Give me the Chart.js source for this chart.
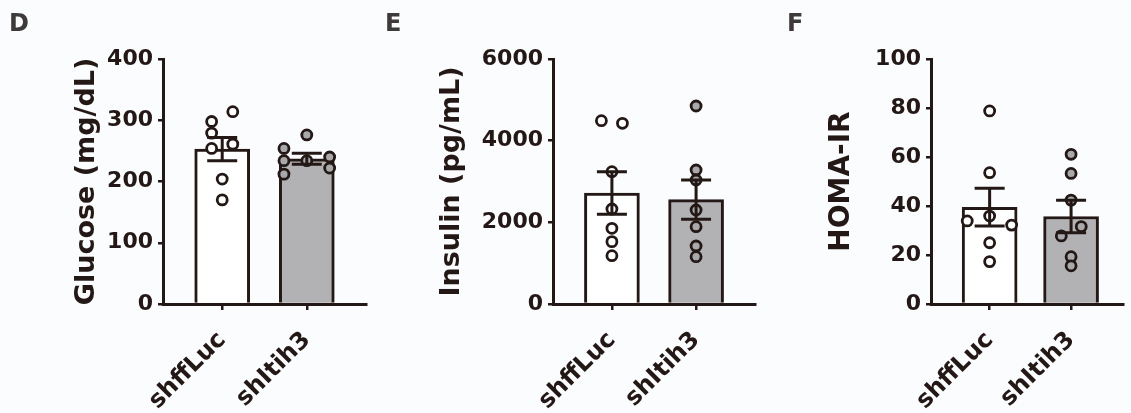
<!DOCTYPE html>
<html>
<head>
<meta charset="utf-8">
<script src="https://cdn.jsdelivr.net/npm/chart.js@4.4.0/dist/chart.umd.min.js"></script>
<style>
  body { margin: 0; background: #fbfcfe; }
  #wrap { position: relative; width: 1131px; height: 413px; }
  canvas { position: absolute; left: 0; top: 0; }
  .tag { position: absolute; top: 11px; font: bold 24px "DejaVu Sans"; line-height: 1; color: #3e3a39; }
</style>
</head>
<body>
<div id="wrap">
  <canvas id="chartD" width="1131" height="413"></canvas>
  <canvas id="chartE" width="1131" height="413"></canvas>
  <canvas id="chartF" width="1131" height="413"></canvas>
  <div class="tag" style="left:9px">D</div>
  <div class="tag" style="left:385px">E</div>
  <div class="tag" style="left:787px">F</div>
</div>
<script>
const groups = ['shffLuc', 'shItih3'];

// D - glucose
const glucoseMean = [253, 237];
const glucoseSem = [19, 9];
const glucoseLuc = [314, 298, 279, 261, 254, 204, 170];
const glucoseItih3 = [276, 254, 240, 234, 234, 222, 212];
const glucoseLucJitter = [0.125, -0.125, -0.125, 0.125, -0.125, 0, 0];
const glucoseItih3Jitter = [0, -0.27, 0.27, -0.27, 0, 0.27, -0.27];
const glucoseTicks = [0, 100, 200, 300, 400];

// E - insulin
const insulinMean = [2718, 2555];
const insulinSem = [522, 482];
const insulinLuc = [4490, 4425, 3240, 2327, 1853, 1527, 1184];
const insulinItih3 = [4849, 3282, 3037, 2302, 1894, 1420, 1159];
const insulinLucJitter = [-0.125, 0.125, 0, 0, 0, 0, 0];
const insulinItih3Jitter = [0, 0, 0, 0, 0, 0, 0];
const insulinTicks = [0, 2000, 4000, 6000];

// F - HOMA-IR
const homaMean = [39.5, 35.7];
const homaSem = [7.7, 6.6];
const homaLuc = [78.8, 53.6, 35.9, 33.9, 32.2, 25.0, 17.3];
const homaItih3 = [61.1, 53.3, 42.4, 31.6, 27.8, 19.3, 15.6];
const homaLucJitter = [0, 0, 0, -0.275, 0.27, 0, 0];
const homaItih3Jitter = [0, 0, 0, 0.125, -0.12, 0, 0];
const homaTicks = [0, 20, 40, 60, 80, 100];

const ink = '#231815';
const barGray = '#b2b2b5';
const dotGray = '#a9a9ac';

Chart.defaults.font.family = '"DejaVu Sans"';
Chart.defaults.font.weight = 'bold';
Chart.defaults.color = ink;

function errorBars(means, sems) {
    return {
        id: 'errorBars',
        afterDatasetsDraw(chart) {
            const { ctx, scales: { x, y } } = chart;
            ctx.save();
            ctx.strokeStyle = ink;
            ctx.lineWidth = 3;
            means.forEach((m, i) => {
                const px = x.getPixelForValue(i);
                const top = y.getPixelForValue(m + sems[i]);
                const bot = y.getPixelForValue(m - sems[i]);
                ctx.beginPath();
                ctx.moveTo(px, top); ctx.lineTo(px, bot);
                ctx.moveTo(px - 15, top); ctx.lineTo(px + 15, top);
                ctx.moveTo(px - 15, bot); ctx.lineTo(px + 15, bot);
                ctx.stroke();
            });
            ctx.restore();
        }
    };
}

function dots(values, jitter, group, fill) {
    return {
        type: 'scatter',
        data: values.map((v, i) => ({ x: group + jitter[i], y: v })),
        pointRadius: 5,
        pointBorderWidth: 2.8,
        pointBackgroundColor: fill,
        pointBorderColor: ink
    };
}

function makePanel(id, p) {
    new Chart(document.getElementById(id), {
        type: 'bar',
        data: {
            datasets: [
                {
                    data: p.mean.map((m, i) => ({ x: i, y: m })),
                    backgroundColor: ['#ffffff', barGray],
                    borderColor: ink,
                    borderWidth: 3,
                    barThickness: 55,
                    order: 2
                },
                Object.assign(dots(p.luc, p.lucJitter, 0, '#ffffff'), { order: 1 }),
                Object.assign(dots(p.itih3, p.itih3Jitter, 1, dotGray), { order: 1 })
            ]
        },
        options: {
            responsive: false,
            animation: false,
            events: [],
            layout: { padding: { left: p.padLeft, right: p.padRight, top: 59, bottom: 0 } },
            plugins: { legend: { display: false }, tooltip: { enabled: false } },
            scales: {
                x: {
                    type: 'linear',
                    min: p.xMin,
                    max: p.xMax,
                    offset: false,
                    afterBuildTicks: (s) => { s.ticks = groups.map((g, i) => ({ value: i })); },
                    afterFit: (s) => { s.height = 109; },
                    ticks: {
                        autoSkip: false,
                        minRotation: 45,
                        maxRotation: 45,
                        padding: 16,
                        font: { size: 24 },
                        callback: (v) => groups[v]
                    },
                    grid: { offset: false, drawOnChartArea: false, tickLength: 6, color: ink, lineWidth: 2.5 },
                    border: { color: ink, width: 3 }
                },
                y: {
                    min: p.ticks[0],
                    max: p.ticks[p.ticks.length - 1],
                    afterBuildTicks: (s) => { s.ticks = p.ticks.map((v) => ({ value: v })); },
                    afterFit: (s) => { s.width = p.axisWidth; },
                    ticks: { padding: 5, font: { size: 22 }, callback: (v) => String(v) },
                    grid: { drawOnChartArea: false, tickLength: 5, color: ink, lineWidth: 2.5 },
                    border: { color: ink, width: 3 },
                    title: {
                        display: true,
                        text: p.title,
                        color: ink,
                        font: { size: p.titleSize },
                        padding: { top: 4, bottom: 4 }
                    }
                }
            }
        },
        plugins: [errorBars(p.mean, p.sem)]
    });
}

makePanel('chartD', {
    title: 'Glucose (mg/dL)', titleSize: 27,
    mean: glucoseMean, sem: glucoseSem,
    luc: glucoseLuc, itih3: glucoseItih3,
    lucJitter: glucoseLucJitter, itih3Jitter: glucoseItih3Jitter,
    ticks: glucoseTicks,
    padLeft: 67, axisWidth: 96, padRight: 765, xMin: -0.7, xMax: 1.7
});

makePanel('chartE', {
    title: 'Insulin (pg/mL)', titleSize: 27,
    mean: insulinMean, sem: insulinSem,
    luc: insulinLuc, itih3: insulinItih3,
    lucJitter: insulinLucJitter, itih3Jitter: insulinItih3Jitter,
    ticks: insulinTicks,
    padLeft: 432, axisWidth: 121, padRight: 376, xMin: -0.7, xMax: 1.7
});

makePanel('chartF', {
    title: 'HOMA-IR', titleSize: 28,
    mean: homaMean, sem: homaSem,
    luc: homaLuc, itih3: homaItih3,
    lucJitter: homaLucJitter, itih3Jitter: homaItih3Jitter,
    ticks: homaTicks,
    padLeft: 821, axisWidth: 110, padRight: 0, xMin: -0.72, xMax: 1.64
});
</script>
</body>
</html>
